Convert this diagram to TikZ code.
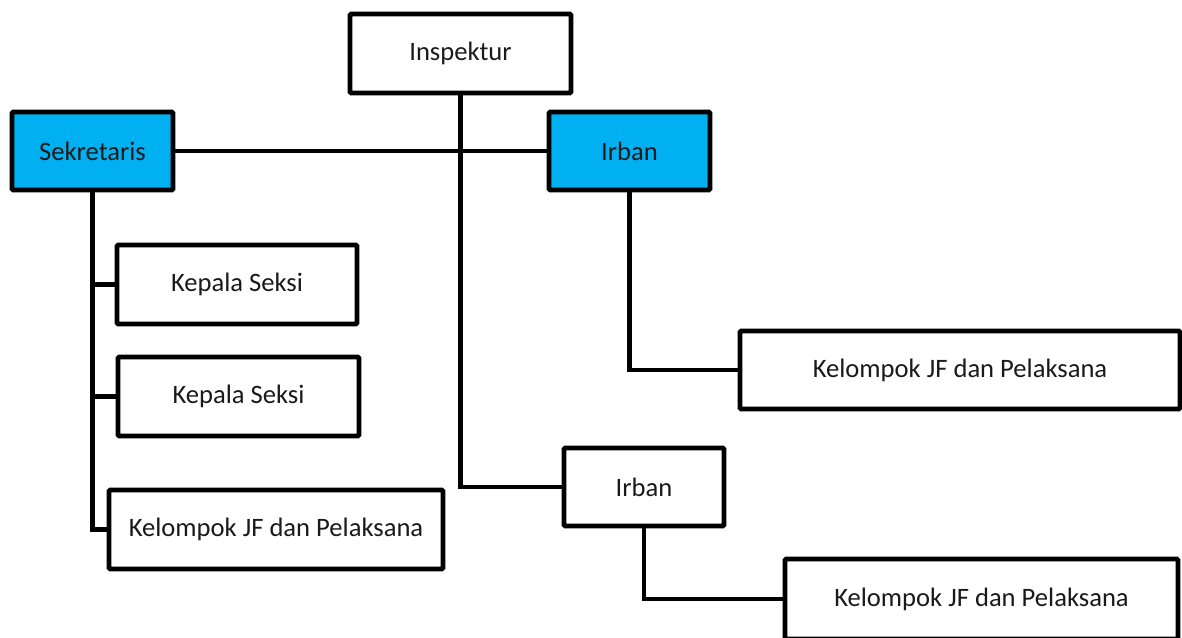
\documentclass[tikz,border=0pt]{standalone}
\usepackage{fontspec}
\setmainfont{Carlito}
\definecolor{boxblue}{HTML}{00B0F0}
\definecolor{txt}{HTML}{1A1A1A}
\begin{document}
\begin{tikzpicture}[x=0.5pt,y=-0.5pt,
  box/.style={draw=black,line width=2.3pt,fill=white,rectangle,inner sep=0pt,
    font=\fontsize{13.3}{15}\selectfont,text=txt,rounded corners=0.6pt},
  bluebox/.style={box,fill=boxblue},
  conn/.style={draw=black,line width=2.3pt}]
\useasboundingbox (0,0) rectangle (1182,637);
\clip (0,0) rectangle (1182,637);
\node[box,minimum width=110.5pt,minimum height=39.5pt] (insp) at (460.5,53.5) {Inspektur};
\node[bluebox,minimum width=80.5pt,minimum height=39pt] (sek) at (92.5,151) {Sekretaris};
\node[bluebox,minimum width=80.5pt,minimum height=39pt] (irb1) at (629.5,151) {Irban};
\node[box,minimum width=120pt,minimum height=39.5pt] (ks1) at (237,284.5) {Kepala Seksi};
\node[box,minimum width=120.5pt,minimum height=39.5pt] (ks2) at (238.5,396.5) {Kepala Seksi};
\node[box,minimum width=167pt,minimum height=39.5pt] (kjf1) at (276,529.5) {Kelompok JF dan Pelaksana};
\node[box,minimum width=220pt,minimum height=39pt] (kjf2) at (960,370) {Kelompok JF dan Pelaksana};
\node[box,minimum width=80pt,minimum height=39pt] (irb2) at (644,487) {Irban};
\node[box,minimum width=196.5pt,minimum height=40pt] (kjf3) at (981.5,599) {Kelompok JF dan Pelaksana};
\draw[conn] (insp.south) |- (irb2.west);
\draw[conn] (sek.east) -- (irb1.west);
\draw[conn] (sek.south) |- (ks1.west);
\draw[conn] (sek.south) |- (ks2.west);
\draw[conn] (sek.south) |- (kjf1.west);
\draw[conn] (irb1.south) |- (kjf2.west);
\draw[conn] (irb2.south) |- (kjf3.west);
\end{tikzpicture}
\end{document}
